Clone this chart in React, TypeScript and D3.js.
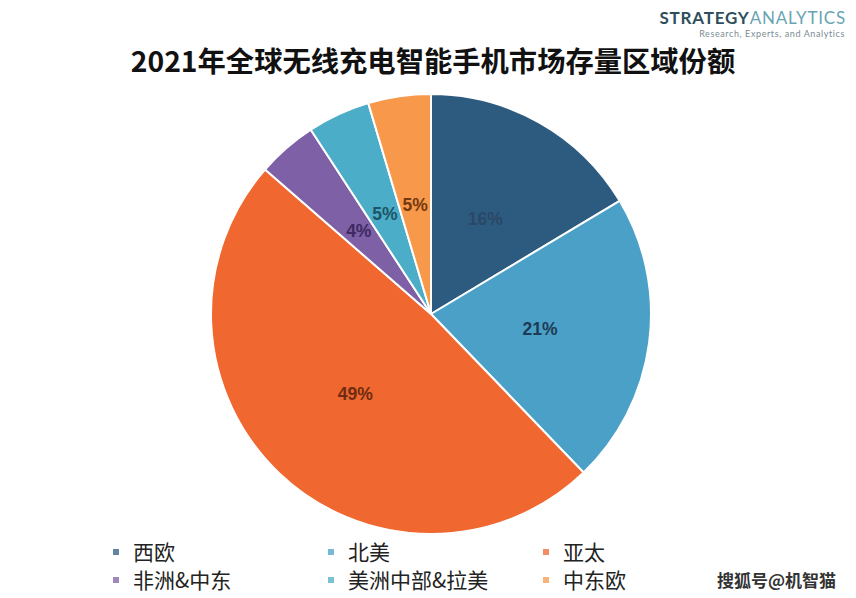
import React, { useEffect, useRef } from 'react';
import * as d3 from 'd3';

// regions, clockwise from 12 o'clock
const regions = ['西欧', '北美', '亚太', '非洲&中东', '美洲中部&拉美', '中东欧'];
const shares = [16.4, 21.4, 48.6, 4.4, 4.6, 4.6];
const sliceColors = ['#2d5b80', '#4aa0c6', '#f0672f', '#7d60a6', '#4cadc8', '#f7984a'];
const labelColors = ['#2a4866', '#1e3b55', '#6e2c12', '#3e2962', '#1c5567', '#743810'];
// legend is laid out row by row, three per row
const legendOrder = ['西欧', '北美', '亚太', '非洲&中东', '美洲中部&拉美', '中东欧'];

const W = 856;
const H = 598;

const App = () => {
  const ref = useRef<SVGSVGElement>(null);

  useEffect(() => {
    const svg = d3.select(ref.current);
    svg.selectAll('*').remove();

    svg.append('rect').attr('width', W).attr('height', H).attr('fill', '#fff');

    // logo
    const logo = svg.append('g').attr('font-family', 'Lato, "Open Sans", sans-serif');
    logo.append('text')
      .attr('x', 846).attr('y', 24)
      .attr('text-anchor', 'end')
      .attr('font-size', 17)
      .attr('letter-spacing', 0.8)
      .call(t => t.append('tspan').attr('fill', '#2f4e5c').attr('font-weight', 'bold').text('STRATEGY'))
      .call(t => t.append('tspan').attr('fill', '#6aa4b2').text('ANALYTICS'));
    logo.append('text')
      .attr('x', 845).attr('y', 37)
      .attr('text-anchor', 'end')
      .attr('font-size', 9)
      .attr('letter-spacing', 0.6)
      .attr('fill', '#7a8c94')
      .text('Research, Experts, and Analytics');

    // title
    svg.append('text')
      .attr('x', 433).attr('y', 72)
      .attr('text-anchor', 'middle')
      .attr('font-family', '"Noto Sans CJK SC", sans-serif')
      .attr('font-weight', 'bold')
      .attr('font-size', 28.3)
      .attr('fill', '#111')
      .text('2021年全球无线充电智能手机市场存量区域份额');

    // pie
    const cx = 431;
    const cy = 314;
    const radius = 220;
    const data = regions.map((name, i) => ({ name, value: shares[i], i }));
    const pie = d3.pie<any>().sort(null).value(d => d.value);
    const arc = d3.arc<any>().innerRadius(0).outerRadius(radius);
    const arcs = pie(data);

    const g = svg.append('g').attr('transform', `translate(${cx},${cy})`);
    g.selectAll('path')
      .data(arcs)
      .join('path')
      .attr('d', arc)
      .attr('fill', d => sliceColors[d.data.i])
      .attr('stroke', '#fff')
      .attr('stroke-width', 2)
      .attr('stroke-linejoin', 'round');

    g.selectAll('text')
      .data(arcs)
      .join('text')
      .attr('transform', d => `translate(${arc.centroid(d)})`)
      .attr('text-anchor', 'middle')
      .attr('dy', '0.36em')
      .attr('font-family', '"Liberation Sans", Arial, sans-serif')
      .attr('font-weight', 'bold')
      .attr('font-size', 17.5)
      .attr('fill', d => labelColors[d.data.i])
      .text(d => `${Math.round(d.data.value)}%`);

    // legend
    const colX = d3.scalePoint<number>().domain([0, 1, 2]).range([113, 543]);
    const rowY = d3.scalePoint<number>().domain([0, 1]).range([552, 580]);
    const legend = svg.append('g')
      .selectAll('g')
      .data(legendOrder)
      .join('g')
      .attr('transform', (d, i) => `translate(${colX(i % 3)},${rowY(Math.floor(i / 3))})`);
    legend.append('rect')
      .attr('x', 0).attr('y', -3)
      .attr('width', 6).attr('height', 6)
      .attr('fill', d => sliceColors[regions.indexOf(d)])
      .attr('opacity', 0.75);
    legend.append('text')
      .attr('x', 20)
      .attr('dy', '0.36em')
      .attr('font-family', '"Noto Sans CJK SC", sans-serif')
      .attr('font-size', 21)
      .attr('fill', '#222')
      .text(d => d);

    // watermark
    svg.append('text')
      .attr('x', 717).attr('y', 587)
      .attr('font-family', '"Noto Sans CJK SC", sans-serif')
      .attr('font-size', 17)
      .attr('font-weight', 'bold')
      .attr('fill', '#333')
      .attr('stroke', '#fff')
      .attr('stroke-width', 1)
      .attr('paint-order', 'stroke')
      .text('搜狐号@机智猫');
  }, []);

  return (
    <div style={{ position: 'absolute', left: 0, top: 0 }}>
      <svg ref={ref} width={W} height={H} style={{ display: 'block' }} />
    </div>
  );
};

export default App;
